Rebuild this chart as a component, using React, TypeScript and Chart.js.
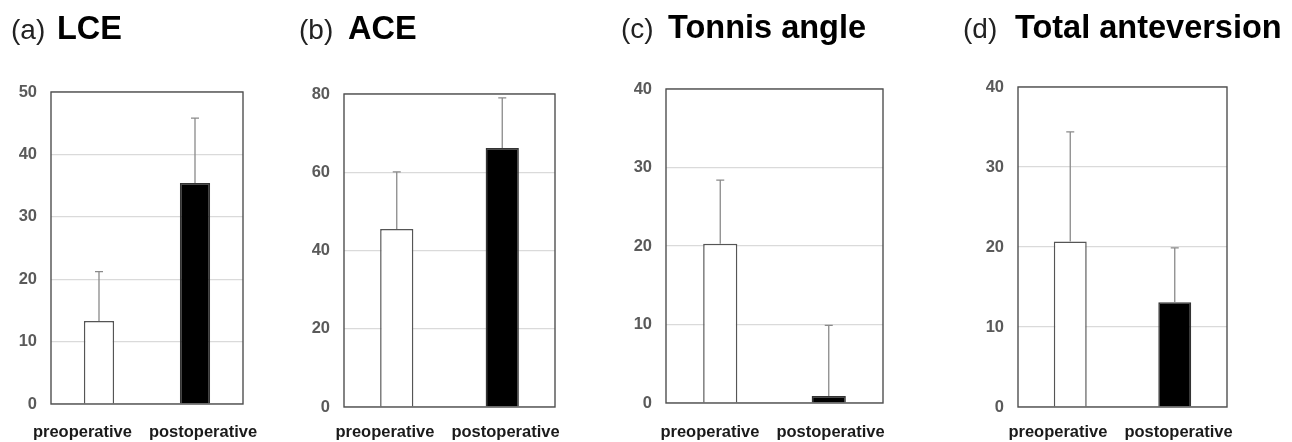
import React, { useEffect, useRef } from 'react';
import { Chart, registerables } from 'chart.js';

Chart.register(...registerables);

const categories = ['preoperative', 'postoperative'];

const lceMean = [13.3, 35.4];
const lceSD = [7.9, 10.4];
const aceMean = [45.5, 66.2];
const aceSD = [14.6, 12.8];
const tonnisMean = [20.3, 0.9];
const tonnisSD = [8.1, 9.0];
const antevMean = [20.7, 13.1];
const antevSD = [13.7, 6.8];

const yMaxes = [50, 80, 40, 40];
const ySteps = [10, 20, 10, 10];
const panelLetters = ['(a)', '(b)', '(c)', '(d)'];
const panelTitles = ['LCE', 'ACE', 'Tonnis angle', 'Total anteversion'];

const panels = [
  { mean: lceMean, sd: lceSD, canvas: [0, 280], box: { l: 51, r: 243, t: 92, b: 404 }, title: { x1: 11, x2: 57, y: 39 } },
  { mean: aceMean, sd: aceSD, canvas: [280, 600], box: { l: 344, r: 555, t: 94, b: 407 }, title: { x1: 299, x2: 348, y: 39 } },
  { mean: tonnisMean, sd: tonnisSD, canvas: [600, 940], box: { l: 666, r: 883, t: 89, b: 403 }, title: { x1: 621, x2: 668, y: 37.5 } },
  { mean: antevMean, sd: antevSD, canvas: [940, 1292], box: { l: 1018, r: 1227, t: 87, b: 407 }, title: { x1: 963, x2: 1015, y: 37.5 } },
];

const FONT = "'Liberation Sans', Arial, sans-serif";
const H = 442;
const LABEL_BASELINE = 437;
const LABEL_GAP = 17;

function Panel({ idx }: { idx: number }) {
  const ref = useRef<HTMLCanvasElement>(null);
  const p = panels[idx];
  const cl = p.canvas[0];
  const cw = p.canvas[1] - p.canvas[0];
  useEffect(() => {
    if (!ref.current) return;
    const sd = p.sd;
    const errorBars = {
      id: 'errorBars',
      afterDatasetsDraw(chart: any) {
        const ctx = chart.ctx;
        const meta = chart.getDatasetMeta(0);
        const ys = chart.scales.y;
        ctx.save();
        ctx.strokeStyle = '#8a8a8a';
        ctx.lineWidth = 1.3;
        meta.data.forEach((bar: any, i: number) => {
          const v = chart.data.datasets[0].data[i] as number;
          const yTop = ys.getPixelForValue(v + sd[i]);
          ctx.beginPath();
          ctx.moveTo(bar.x, bar.y);
          ctx.lineTo(bar.x, yTop);
          ctx.moveTo(bar.x - 4, yTop);
          ctx.lineTo(bar.x + 4, yTop);
          ctx.stroke();
        });
        ctx.restore();
      },
    };
    const frame = {
      id: 'frame',
      afterDraw(chart: any) {
        const a = chart.chartArea;
        const ctx = chart.ctx;
        ctx.save();
        ctx.strokeStyle = '#505050';
        ctx.lineWidth = 1.4;
        ctx.strokeRect(a.left, a.top, a.right - a.left, a.bottom - a.top);
        ctx.textBaseline = 'alphabetic';
        ctx.textAlign = 'left';
        ctx.fillStyle = '#222';
        ctx.font = `normal 28px ${FONT}`;
        ctx.fillText(panelLetters[idx], p.title.x1 - cl, p.title.y);
        ctx.fillStyle = '#000';
        ctx.font = `bold 32.5px ${FONT}`;
        ctx.fillText(panelTitles[idx], p.title.x2 - cl, p.title.y);
        // category labels, written as one line centred under the plot frame
        ctx.font = `bold 16.5px ${FONT}`;
        ctx.fillStyle = '#1a1a1a';
        const labels = chart.data.labels as string[];
        const widths = labels.map((s) => ctx.measureText(s).width);
        const total = widths.reduce((s, w) => s + w, 0) + LABEL_GAP * (labels.length - 1);
        let x = (a.left + a.right) / 2 - total / 2 - 2;
        labels.forEach((s, i) => {
          ctx.fillText(s, x, LABEL_BASELINE);
          x += widths[i] + LABEL_GAP;
        });
        ctx.restore();
      },
    };
    const chart = new Chart(ref.current, {
      type: 'bar',
      data: {
        labels: categories,
        datasets: [
          {
            data: p.mean,
            backgroundColor: ['#ffffff', '#000000'],
            borderColor: ['#555555', '#333333'],
            borderWidth: 1.5,
            categoryPercentage: 1,
            barPercentage: 0.315,
          },
        ],
      },
      options: {
        responsive: false,
        animation: false,
        events: [],
        layout: {
          padding: { left: 0, right: p.canvas[1] - p.box.r, top: p.box.t, bottom: 0 },
        },
        plugins: {
          legend: { display: false },
          tooltip: { enabled: false },
          title: { display: false },
        },
        scales: {
          x: {
            offset: true,
            grid: { display: false, drawTicks: false },
            border: { display: false },
            ticks: { display: false },
            afterFit: (s: any) => {
              s.height = H - p.box.b;
            },
          },
          y: {
            min: 0,
            max: yMaxes[idx],
            grid: { color: '#dadada', lineWidth: 1.2, drawTicks: false },
            border: { display: false },
            ticks: {
              stepSize: ySteps[idx],
              color: '#5a5a5a',
              font: { family: FONT, size: 16.5, weight: 'bold' },
              padding: 14,
            },
            afterFit: (s: any) => {
              s.width = p.box.l - cl;
            },
          },
        },
      },
      plugins: [errorBars, frame],
    });
    return () => chart.destroy();
  }, []);
  return (
    <canvas
      ref={ref}
      width={cw}
      height={H}
      style={{ position: 'absolute', left: cl, top: 0, width: cw, height: H }}
    />
  );
}

export default function App() {
  return (
    <div style={{ position: 'fixed', left: 0, top: 0, width: 1292, height: 442, background: '#fff' }}>
      {panels.map((_, i) => (
        <Panel key={i} idx={i} />
      ))}
    </div>
  );
}
